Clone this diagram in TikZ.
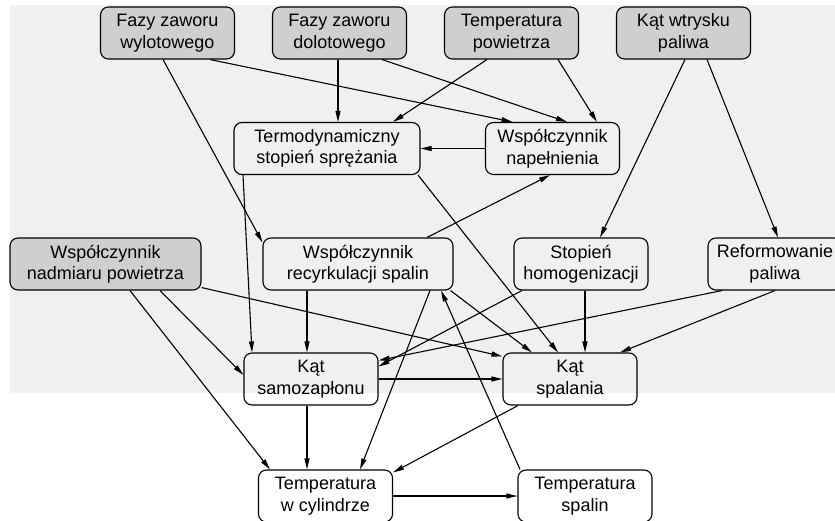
\documentclass[tikz,border=0pt]{standalone}
\usepackage{fontspec}
\setmainfont{Liberation Sans}
\usetikzlibrary{arrows.meta}

\definecolor{tlo}{gray}{0.94}
\definecolor{wejscie}{gray}{0.81}

\tikzset{
  blok/.style={draw, rounded corners=8pt, line width=1.1pt, align=center,
    minimum width=134pt, minimum height=52pt, inner sep=2pt,
    font=\fontsize{18}{21.5}\selectfont},
  wej/.style={blok, fill=wejscie},
  strz/.style={->, line width=1.1pt},
}

\begin{document}
\begin{tikzpicture}[x=1pt,y=-1pt,>={Triangle[length=11pt,width=5pt]}]
  \useasboundingbox (0,0) rectangle (835,521);
  \fill[tlo] (10,5) rectangle (835,393);

  % parametry wejsciowe
  \node[wej] (wylot) at (167.5,33) {Fazy zaworu\\wylotowego};
  \node[wej] (dolot) at (339.5,33) {Fazy zaworu\\dolotowego};
  \node[wej] (tpow) at (511.5,33) {Temperatura\\powietrza};
  \node[wej] (wtrysk) at (683.5,33) {Kąt wtrysku\\paliwa};
  \node[wej, minimum width=191pt] (nadmiar) at (105.5,264) {Współczynnik\\nadmiaru powietrza};

  \node[blok, minimum width=186pt] (termo) at (327,148.5) {Termodynamiczny\\stopień sprężania};
  \node[blok] (napel) at (552.5,148.5) {Współczynnik\\napełnienia};
  \node[blok, minimum width=190pt] (recyrk) at (358,264) {Współczynnik\\recyrkulacji spalin};
  \node[blok] (homog) at (581,264) {Stopień\\homogenizacji};
  \node[blok] (reform) at (775,264) {Reformowanie\\paliwa};
  \node[blok] (samoz) at (311,379) {Kąt\\samozapłonu};
  \node[blok] (spal) at (570,379) {Kąt\\spalania};
  \node[blok] (tcyl) at (325.5,496) {Temperatura\\w cylindrze};
  \node[blok] (tspal) at (585,496) {Temperatura\\spalin};

  % polaczenia
  \draw[strz] ([xshift=42.5pt]wylot.south) -- ([xshift=-40pt]napel.north);
  \draw[strz] ([xshift=-4.5pt]wylot.south) -- ([yshift=-5pt]recyrk.north west);
  \draw[strz] ([xshift=42.5pt]dolot.south) -- ([xshift=14.5pt]napel.north);
  \draw[strz] ([xshift=-1.5pt]dolot.south) -- ([xshift=11pt]termo.north);
  \draw[strz] ([xshift=46.5pt]tpow.south) -- ([xshift=44.5pt]napel.north);
  \draw[strz] ([xshift=-24.5pt]tpow.south) -- ([xshift=66pt]termo.north);
  \draw[strz] ([xshift=1.5pt]wtrysk.south) -- ([xshift=19pt]homog.north);
  \draw[strz] ([xshift=23.5pt]wtrysk.south) -- ([xshift=3pt]reform.north);

  \draw[strz] (napel) -- (termo);
  \draw[strz] ([xshift=-84pt]termo.south) -- ([xshift=-59pt]samoz.north);
  \draw[strz] ([xshift=91pt]termo.south) -- ([xshift=-12pt]spal.north);

  \draw[strz] ([xshift=69pt]recyrk.north) -- ([xshift=-2.5pt]napel.south);
  \draw[strz] ([xshift=-51pt]recyrk.south) -- ([xshift=-4pt]samoz.north);
  \draw[strz] ([xshift=-3pt]recyrk.south east) -- ([xshift=-38pt]spal.north);
  \draw[strz] ([xshift=72pt]recyrk.south) -- ([xshift=34.5pt]tcyl.north);

  \draw[strz] ([yshift=3pt]nadmiar.south east) -- ([yshift=-4pt]spal.north west);
  \draw[strz] ([xshift=54.5pt]nadmiar.south) -- ([yshift=4pt]samoz.west);
  \draw[strz] ([xshift=24.5pt]nadmiar.south) -- ([xshift=-55.5pt]tcyl.north);

  \draw[strz] ([xshift=-59pt]homog.south) -- ([yshift=-14pt]samoz.north east);
  \draw[strz] ([xshift=4pt]homog.south) -- ([xshift=15pt]spal.north);
  \draw[strz] ([xshift=-53pt]reform.south) -- ([yshift=-8pt]samoz.north east);
  \draw[strz] (reform.south) -- ([xshift=50pt]spal.north);

  \draw[strz] (samoz) -- (spal);
  \draw[strz] ([xshift=-4pt]samoz.south) -- ([xshift=-18.5pt]tcyl.north);
  \draw[strz] ([xshift=-52pt]spal.south) -- ([yshift=-3pt]tcyl.north east);
  \draw[strz] (tcyl) -- (tspal);
  \draw[strz] ([xshift=-65pt]tspal.north) -- ([xshift=83pt]recyrk.south);
\end{tikzpicture}
\end{document}
